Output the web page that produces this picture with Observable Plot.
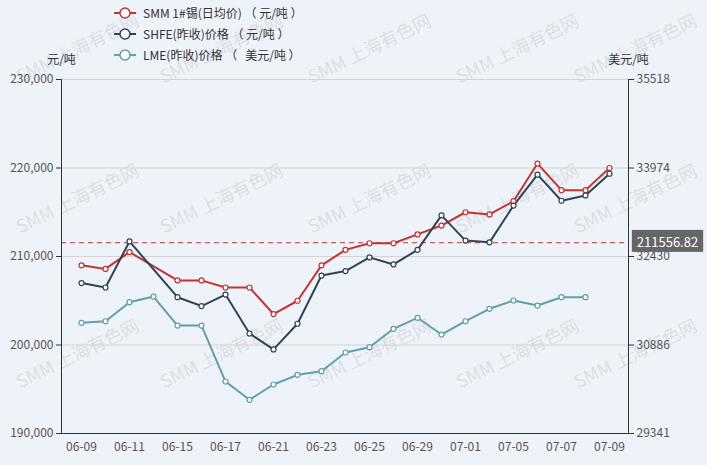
<!DOCTYPE html>
<html>
<head>
<meta charset="utf-8">
<script src="https://cdn.jsdelivr.net/npm/d3@7"></script>
<script src="https://cdn.jsdelivr.net/npm/@observablehq/plot@0.6"></script>
<style>
  html, body { margin: 0; padding: 0; background: #eef2f9; }
  #wrap { position: relative; width: 707px; height: 465px; background: #eef2f9; overflow: hidden;
          font-family: "Noto Sans CJK SC", "Noto Sans", sans-serif; }
  #legend { position: absolute; left: 113px; top: 2px; font-size: 12px; color: #333; z-index: 2; }
  .lg { display: flex; align-items: center; height: 21px; }
  .lg svg { margin-right: 6px; }
  .lg span { white-space: pre; }
  #chart { position: absolute; left: 0; top: 0; }
</style>
</head>
<body>
<div id="wrap">
  <div id="legend"></div>
  <div id="chart"></div>
</div>
<script>
// ---- data ----
const dates = ["06-09","06-10","06-11","06-14","06-15","06-16","06-17","06-18","06-21","06-22","06-23","06-24","06-25","06-28","06-29","06-30","07-01","07-02","07-05","07-06","07-07","07-08","07-09"];
const smmValues  = [209000,208600,210500,null,207300,207300,206500,206500,203500,205000,209000,210750,211500,211500,212500,213500,215000,214750,216250,220500,217500,217500,220000];
const shfeValues = [207000,206500,211700,null,205400,204400,205700,201300,199500,202400,207850,208350,209900,209100,210750,214650,211800,211600,215750,219250,216300,216900,219350];
const lmeValues  = [31273,31300,31632,31731,31225,31225,30248,29929,30196,30365,30428,30754,30847,31168,31360,31068,31300,31517,31662,31574,31719,31719,null];
const seriesNames = ["SMM 1#锡(日均价) （ 元/吨 ）", "SHFE(昨收)价格 （ 元/吨 ）", "LME(昨收)价格 （   美元/吨 ）"];
const seriesColors = ["#c23531", "#2f4554", "#61a0a8"];
const leftTicks = [190000, 200000, 210000, 220000, 230000];
const rightTicks = [29341, 30886, 32430, 33974, 35518];
const xTickLabels = ["06-09","06-11","06-15","06-17","06-21","06-23","06-25","06-29","07-01","07-05","07-07","07-09"];
const smmAverage = 211556.82;
const leftUnit = "元/吨";
const rightUnit = "美元/吨";
const watermark = "SMM 上海有色网";

// right-axis values mapped onto left scale (dual axis)
const toLeft = v => leftTicks[0] + (v - rightTicks[0]) / (rightTicks[rightTicks.length-1] - rightTicks[0]) * (leftTicks[leftTicks.length-1] - leftTicks[0]);
const series = [
  {name: seriesNames[0], values: smmValues, right: false},
  {name: seriesNames[1], values: shfeValues, right: false},
  {name: seriesNames[2], values: lmeValues, right: true}
];
const rows = series.flatMap(s => s.values.map((v, i) => ({date: dates[i], series: s.name, value: v, y: v == null ? null : (s.right ? toLeft(v) : v)})).filter(d => d.value != null));

// ---- legend ----
const legend = d3.select("#legend");
seriesNames.forEach((n, i) => {
  const row = legend.append("div").attr("class", "lg");
  const s = row.append("svg").attr("width", 24).attr("height", 14);
  s.append("line").attr("x1", 1).attr("x2", 23).attr("y1", 7).attr("y2", 7).attr("stroke", seriesColors[i]).attr("stroke-width", 2);
  s.append("circle").attr("cx", 12).attr("cy", 7).attr("r", 5).attr("fill", "white").attr("stroke", seriesColors[i]).attr("stroke-width", 1.5);
  row.append("span").text(n);
});

const font = "\"Noto Sans CJK SC\", \"Noto Sans\", sans-serif";
const avgText = smmAverage.toFixed(2);
const chart = Plot.plot({
  width: 707, height: 465,
  marginLeft: 61, marginRight: 79, marginTop: 79, marginBottom: 32,
  style: {background: "transparent", fontFamily: font, fontSize: "12px", overflow: "visible"},
  x: {type: "point", domain: dates, padding: 0.5},
  y: {domain: [leftTicks[0], leftTicks[leftTicks.length-1]]},
  color: {domain: seriesNames, range: seriesColors},
  marks: [
    Plot.ruleY(leftTicks, {stroke: "#d4d4d4", strokeWidth: 1}),
    Plot.ruleY([smmAverage], {stroke: "#c23531", strokeDasharray: "5,4", strokeWidth: 1}),
    Plot.frame({anchor: "left", stroke: "#333"}),
    Plot.frame({anchor: "right", stroke: "#333"}),
    Plot.frame({anchor: "bottom", stroke: "#333"}),
    Plot.line(rows, {x: "date", y: "y", z: "series", stroke: "series", strokeWidth: 2}),
    Plot.dot(rows, {x: "date", y: "y", stroke: "series", fill: "white", r: 2.5, strokeWidth: 1.2}),
    Plot.axisY(leftTicks, {anchor: "left", tickFormat: d3.format(","), tickSize: 5, tickPadding: 3, stroke: "#333", fill: "#555", label: null}),
    Plot.axisY(leftTicks, {anchor: "right", tickFormat: d => String(rightTicks[leftTicks.indexOf(d)]), tickSize: 5, tickPadding: 3, stroke: "#333", fill: "#555", label: null}),
    Plot.axisX(xTickLabels, {tickSize: 0, tickPadding: 9, fill: "#555", label: null}),
    Plot.text([leftUnit], {frameAnchor: "top-left", dy: -24, textAnchor: "middle", fill: "#333"}),
    Plot.text([rightUnit], {frameAnchor: "top-right", dy: -24, textAnchor: "middle", fill: "#333"}),
    Plot.text([smmAverage], {y: d => d, frameAnchor: "right", dx: 39, textAnchor: "middle", text: () => avgText, fill: "white", fontSize: 13})
  ]
});
document.getElementById("chart").appendChild(chart);

// label background box
const svg = d3.select(chart.tagName.toLowerCase() === "svg" ? chart : chart.querySelector("svg"));
svg.selectAll("text").filter(function() { return this.textContent === avgText; }).each(function() {
  const b = this.getBBox();
  const tr = this.getAttribute("transform");
  const r = d3.select(this.parentNode).insert("rect", function() { return this.firstChild; })
    .attr("x", b.x - 5).attr("y", b.y - 2).attr("width", b.width + 10).attr("height", b.height + 3)
    .attr("fill", "#666");
  if (tr) r.attr("transform", tr);
});

// watermark
const wm = svg.insert("g", ":first-child").attr("pointer-events", "none");
[50, 200, 355].forEach(yy => {
  [78, 222, 370, 518, 636].forEach(xx => {
    wm.append("text").attr("transform", `translate(${xx},${yy}) rotate(-26)`)
      .attr("text-anchor", "middle").attr("dominant-baseline", "middle")
      .attr("font-size", 18).attr("fill", "#b4b4b4").attr("fill-opacity", 0.32)
      .text(watermark);
  });
});
</script>
</body>
</html>
